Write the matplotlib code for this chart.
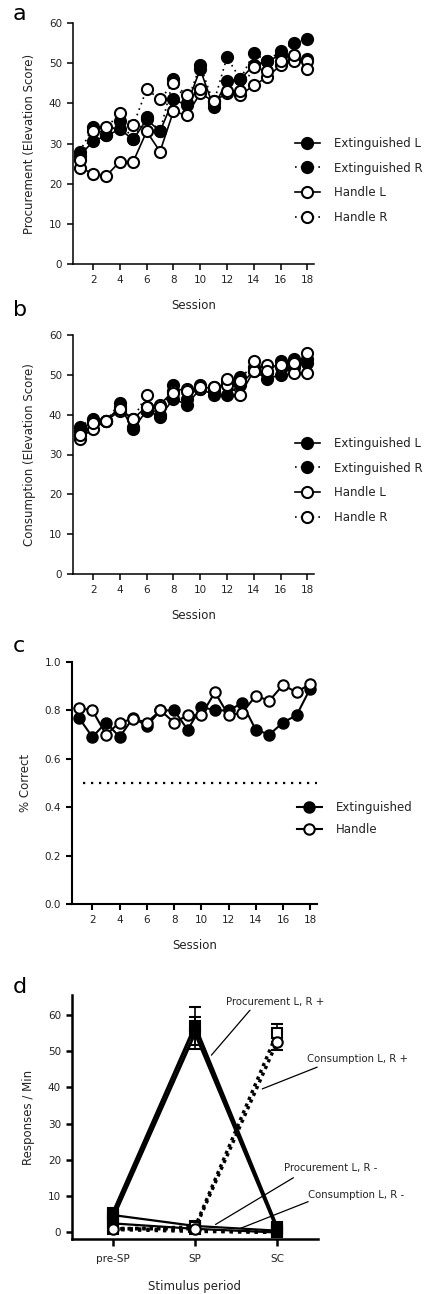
import matplotlib
matplotlib.use("Agg")
import matplotlib.pyplot as plt
import numpy as np

plt.rcParams['font.family'] = ['DejaVu Sans']

# ---------------- data ----------------
sessions = list(range(1, 19))
session_ticks = [2, 4, 6, 8, 10, 12, 14, 16, 18]

# panel a: procurement (elevation score)
proc_ext_L = [27, 30.5, 32, 33.5, 31, 36, 33, 41, 39.5, 48.5, 39, 45.5, 46, 49.5, 50.5, 52, 51, 51]
proc_ext_R = [28, 34, 32, 35.5, 31, 36.5, 33, 46, 40, 49.5, 40, 51.5, 46, 52.5, 50.5, 53, 55, 56]
proc_han_L = [24, 22.5, 22, 25.5, 25.5, 33, 28, 38, 37, 42.5, 40.5, 42.5, 42, 44.5, 46.5, 49.5, 50.5, 50.5]
proc_han_R = [26, 33, 34, 37.5, 34.5, 43.5, 41, 45, 42, 43.5, 40.5, 43, 43, 49, 48, 50.5, 52, 48.5]

# panel b: consumption (elevation score)
cons_ext_L = [36, 38.5, 38.5, 42, 36.5, 41, 39.5, 44, 42.5, 46.5, 45, 45, 47.5, 51, 49, 50, 52, 53]
cons_ext_R = [37, 39, 38.5, 43, 37, 42, 40, 47.5, 44, 47.5, 46, 48, 49.5, 52, 50.5, 53.5, 54, 54]
cons_han_L = [34, 36.5, 38.5, 41, 39, 42, 42.5, 46, 46.5, 46.5, 47, 47.5, 45, 51, 52.5, 52, 50.5, 50.5]
cons_han_R = [35, 38, 38.5, 41.5, 39, 45, 42, 45.5, 46, 47, 47, 49, 48.5, 53.5, 51, 52.5, 53, 55.5]

# panel c: % correct
pc_ext = [0.77, 0.69, 0.75, 0.69, 0.77, 0.735, 0.80, 0.80, 0.72, 0.815, 0.80, 0.80, 0.83, 0.72, 0.70, 0.75, 0.78, 0.89]
pc_han = [0.81, 0.80, 0.70, 0.75, 0.765, 0.75, 0.80, 0.75, 0.78, 0.78, 0.875, 0.78, 0.79, 0.86, 0.84, 0.905, 0.875, 0.91]
chance = 0.5

# panel d: responses / min by stimulus period
periods = ['pre-SP', 'SP', 'SC']
proc_plus_L = [5.5, 57, 1.5]
proc_plus_L_err = [1.0, 5.2, 0.8]
proc_plus_R = [4.0, 55, 1.0]
proc_plus_R_err = [1.0, 4.5, 0.8]
proc_minus_L = [4.8, 1.8, 0.5]
proc_minus_R = [2.5, 1.0, 0.0]
cons_plus_L = [1.0, 1.5, 55]
cons_plus_L_err = [0.5, 0.5, 2.5]
cons_plus_R = [1.0, 1.0, 52.5]
cons_plus_R_err = [0.5, 0.5, 2.2]
cons_minus_L = [1.2, 0.5, 0.0]
cons_minus_R = [0.8, 0.3, 0.0]

# ---------------- figure ----------------
W, H = 447, 1294
fig = plt.figure(figsize=(W / 100, H / 100), dpi=100)

def fx(px):
    return px / W

def fy(py):
    return 1 - py / H

txt = '#222222'
dotted = (0, (1, 2.5))
LBL = 8.5
TICK = 7.5
LEG = 8.5

def style_axes(ax, lw):
    for s in ['top', 'right']:
        ax.spines[s].set_visible(False)
    for s in ['left', 'bottom']:
        ax.spines[s].set_linewidth(lw)
    ax.tick_params(direction='out', length=4, width=lw, labelsize=TICK, colors='black',
                   labelcolor=txt, pad=4)

def session_panel(rect, series, ylabel, letter, legend_center):
    ax = fig.add_axes(rect)
    style_axes(ax, 1.1)
    labels = ['Extinguished L', 'Extinguished R', 'Handle L', 'Handle R']
    fills = ['black', 'black', 'white', 'white']
    styles = ['-', dotted, '-', dotted]
    for vals, lab, fc, ls in zip(series, labels, fills, styles):
        ax.plot(sessions, vals, linestyle=ls, color='black', lw=1.2, marker='o',
                markersize=8, markerfacecolor=fc, markeredgecolor='black',
                markeredgewidth=1.5, label=lab, clip_on=False)
    ax.set_xlim(0.5, 18.5)
    ax.set_ylim(0, 60)
    ax.set_xticks(session_ticks)
    ax.set_yticks([0, 10, 20, 30, 40, 50, 60])
    ax.set_xlabel('Session', fontsize=LBL, color=txt, labelpad=10)
    ax.set_ylabel(ylabel, fontsize=LBL, color=txt, labelpad=9)
    ax.legend(loc='center left', bbox_to_anchor=(fx(295), fy(legend_center)),
              bbox_transform=fig.transFigure, frameon=False, fontsize=LEG,
              handlelength=2.1, handletextpad=1.2, labelspacing=1.0,
              borderpad=0, borderaxespad=0, labelcolor=txt)
    fig.text(fx(13), fy(20), letter, fontsize=16, color='black', va='baseline')
    return ax

# panel a
session_panel([fx(73), fy(264), fx(314) - fx(73), fy(23) - fy(264)],
              [proc_ext_L, proc_ext_R, proc_han_L, proc_han_R],
              'Procurement (Elevation Score)', 'a', 180.5)
# panel b
axb = session_panel([fx(73), fy(574), fx(314) - fx(73), fy(335) - fy(574)],
                    [cons_ext_L, cons_ext_R, cons_han_L, cons_han_R],
                    'Consumption (Elevation Score)', 'b', 480.5)
fig.texts[-1].set_position((fx(13), fy(316)))

# panel c
axc = fig.add_axes([fx(72), fy(904), fx(317) - fx(72), fy(662) - fy(904)])
style_axes(axc, 1.5)
axc.plot(sessions, pc_ext, '-', color='black', lw=1.5, marker='o', markersize=7.5,
         markerfacecolor='black', markeredgecolor='black', markeredgewidth=1.5,
         label='Extinguished', clip_on=False)
axc.plot(sessions, pc_han, '-', color='black', lw=1.5, marker='o', markersize=7.5,
         markerfacecolor='white', markeredgecolor='black', markeredgewidth=1.5,
         label='Handle', clip_on=False)
axc.axhline(chance, xmin=0.045, xmax=1.0, color='black', lw=1.6, linestyle=(0, (1, 2.6)))
axc.set_xlim(0.5, 18.5)
axc.set_ylim(0, 1.0)
axc.set_xticks(session_ticks)
axc.set_yticks([0.0, 0.2, 0.4, 0.6, 0.8, 1.0])
axc.set_yticklabels(['0.0', '0.2', '0.4', '0.6', '0.8', '1.0'])
axc.set_xlabel('Session', fontsize=LBL, color=txt, labelpad=10)
axc.set_ylabel('% Correct', fontsize=LBL, color=txt, labelpad=9)
axc.legend(loc='center left', bbox_to_anchor=(fx(297), fy(818.5)),
           bbox_transform=fig.transFigure, frameon=False, fontsize=LEG,
           handlelength=2.1, handletextpad=1.2, labelspacing=0.8,
           borderpad=0, borderaxespad=0, labelcolor=txt)
fig.text(fx(13), fy(652), 'c', fontsize=16, color='black', va='baseline')

# panel d
axd = fig.add_axes([fx(72), fy(1239), fx(318) - fx(72), fy(995) - fy(1239)])
style_axes(axd, 1.8)
xp = np.arange(len(periods))
sq = dict(marker='s', markersize=7.5, markeredgecolor='black', markeredgewidth=1.5)
axd.errorbar(xp, proc_plus_L, yerr=proc_plus_L_err, color='black', lw=2.2, capsize=4,
             elinewidth=1.2, capthick=1.2, markerfacecolor='black', clip_on=False, **sq)
axd.errorbar(xp, proc_plus_R, yerr=proc_plus_R_err, color='black', lw=2.2, capsize=4,
             elinewidth=1.2, capthick=1.2, markerfacecolor='black', clip_on=False, **sq)
axd.plot(xp, proc_minus_L, '-', color='black', lw=1.6, markerfacecolor='black', clip_on=False, **sq)
axd.plot(xp, proc_minus_R, '-', color='black', lw=1.6, markerfacecolor='black', clip_on=False, **sq)
axd.errorbar(xp, cons_plus_L, yerr=cons_plus_L_err, color='black', lw=2.4, linestyle=(0, (1, 1.2)),
             capsize=4, elinewidth=1.2, capthick=1.2, markerfacecolor='white', clip_on=False, **sq)
axd.errorbar(xp, cons_plus_R, yerr=cons_plus_R_err, color='black', lw=2.4, linestyle=(0, (1, 1.2)),
             capsize=4, elinewidth=1.2, capthick=1.2, marker='o', markersize=7.5,
             markerfacecolor='white', markeredgecolor='black', markeredgewidth=1.5, clip_on=False)
axd.plot(xp, cons_minus_L, color='black', lw=2.4, linestyle=(0, (1, 1.5)), clip_on=False)
axd.plot(xp, cons_minus_R, color='black', lw=2.4, linestyle=(0, (1, 1.5)), clip_on=False)
axd.set_xlim(-0.5, 2.5)
axd.set_ylim(-1.8, 65.5)
axd.set_xticks(xp)
axd.set_xticklabels(periods)
axd.set_yticks([0, 10, 20, 30, 40, 50, 60])
axd.tick_params(axis='x', length=5, pad=6)
axd.set_xlabel('Stimulus period', fontsize=LBL, color=txt, labelpad=11)
axd.set_ylabel('Responses / Min', fontsize=LBL, color=txt, labelpad=9)

annots = [
    ('Procurement L, R +', (1.374, 63.7), (1.67, 61.3), (1.20, 48.9)),
    ('Consumption L, R +', (2.37, 47.8), (2.49, 45.6), (1.82, 39.6)),
    ('Procurement L, R -', (2.09, 17.9), (2.20, 15.1), (1.25, 2.2)),
    ('Consumption L, R -', (2.38, 10.4), (2.38, 8.5), (1.55, 1.1)),
]
for label, tpos, a0, a1 in annots:
    axd.text(tpos[0], tpos[1], label, fontsize=7.3, color=txt, ha='left', va='center',
             clip_on=False)
    axd.annotate('', xy=a1, xytext=a0,
                 arrowprops=dict(arrowstyle='-', color='black', lw=0.9,
                                 shrinkA=0, shrinkB=0), annotation_clip=False)
fig.text(fx(13), fy(993), 'd', fontsize=16, color='black', va='baseline')

fig.savefig('out.png', dpi=100)
